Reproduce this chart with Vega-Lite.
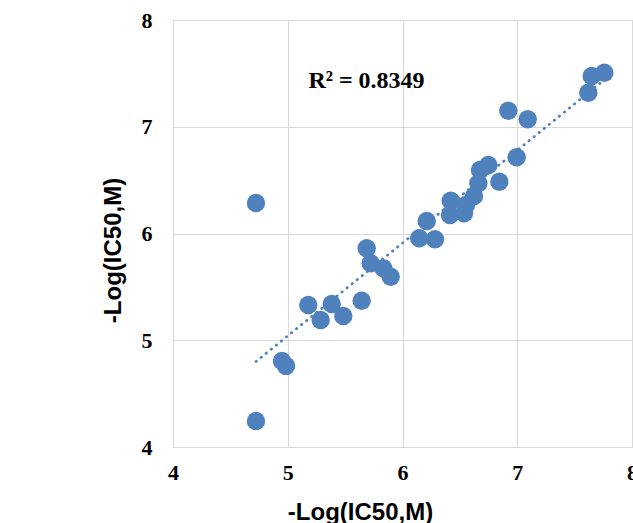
{
  "$schema": "https://vega.github.io/schema/vega-lite/v6.json",
  "width": 459,
  "height": 427,
  "autosize": {"type": "none"},
  "padding": {"left": 173, "top": 20, "right": 1, "bottom": 76},
  "background": "white",
  "config": {
    "view": {"stroke": "#d0d0d0", "strokeWidth": 1},
    "axis": {
      "grid": true,
      "gridColor": "#d9d9d9",
      "gridWidth": 1,
      "domain": false,
      "ticks": false,
      "tickSize": 0,
      "labelFont": "Liberation Serif",
      "labelFontWeight": "bold",
      "labelFontSize": 22,
      "labelColor": "#000000",
      "labelFlush": false,
      "titleFont": "Liberation Sans",
      "titleFontWeight": "bold",
      "titleFontSize": 24,
      "titleColor": "#000000"
    }
  },
  "data": {
    "values": [
      {"x": 4.723, "y": 6.286},
      {"x": 4.723, "y": 4.244},
      {"x": 4.950, "y": 4.806},
      {"x": 4.985, "y": 4.760},
      {"x": 5.179, "y": 5.330},
      {"x": 5.287, "y": 5.190},
      {"x": 5.383, "y": 5.340},
      {"x": 5.484, "y": 5.227},
      {"x": 5.644, "y": 5.370},
      {"x": 5.688, "y": 5.861},
      {"x": 5.723, "y": 5.721},
      {"x": 5.833, "y": 5.674},
      {"x": 5.897, "y": 5.595},
      {"x": 6.146, "y": 5.955},
      {"x": 6.283, "y": 5.946},
      {"x": 6.211, "y": 6.117},
      {"x": 6.420, "y": 6.307},
      {"x": 6.414, "y": 6.173},
      {"x": 6.536, "y": 6.189},
      {"x": 6.553, "y": 6.267},
      {"x": 6.623, "y": 6.351},
      {"x": 6.661, "y": 6.470},
      {"x": 6.675, "y": 6.595},
      {"x": 6.748, "y": 6.642},
      {"x": 6.844, "y": 6.485},
      {"x": 6.995, "y": 6.714},
      {"x": 6.922, "y": 7.150},
      {"x": 7.091, "y": 7.070},
      {"x": 7.619, "y": 7.319},
      {"x": 7.649, "y": 7.475},
      {"x": 7.759, "y": 7.506}
    ]
  },
  "layer": [
    {
      "transform": [{"regression": "y", "on": "x"}],
      "mark": {"type": "line", "color": "#4f81bd", "strokeWidth": 2.7, "strokeCap": "round", "strokeDash": [0.5, 6]},
      "encoding": {
        "x": {"field": "x", "type": "quantitative", "scale": {"domain": [4, 8]},
          "axis": {"title": "-Log(IC50,M)", "values": [4, 5, 6, 7, 8], "format": "d", "labelPadding": 15, "titleBaseline": "top", "titleX": 187, "titleY": 53}},
        "y": {"field": "y", "type": "quantitative", "scale": {"domain": [4, 8]},
          "axis": {"title": "-Log(IC50,M)", "values": [4, 5, 6, 7, 8], "format": "d", "labelPadding": 21, "titleBaseline": "bottom", "titleX": -48, "titleY": 230}}
      }
    },
    {
      "mark": {"type": "circle", "size": 340, "color": "#4f81bd", "opacity": 1},
      "encoding": {
        "x": {"field": "x", "type": "quantitative"},
        "y": {"field": "y", "type": "quantitative"}
      }
    },
    {
      "data": {"values": [{"label": "R² = 0.8349"}]},
      "mark": {"type": "text", "font": "Liberation Serif", "fontWeight": "bold", "fontSize": 24, "align": "left", "baseline": "alphabetic", "color": "#000000"},
      "encoding": {
        "x": {"datum": 5.18},
        "y": {"datum": 7.363},
        "text": {"field": "label"}
      }
    }
  ]
}
